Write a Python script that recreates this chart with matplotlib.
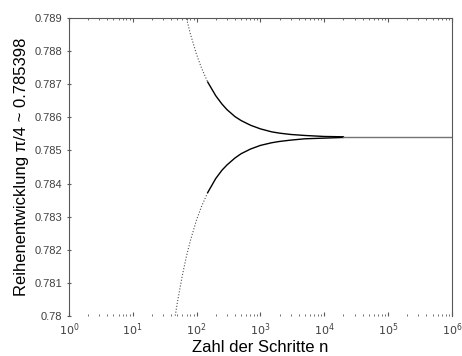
import numpy as np
import matplotlib.pyplot as plt
from matplotlib.ticker import FuncFormatter, LogLocator, NullFormatter

plt.rcParams['font.family'] = ['Liberation Sans', 'DejaVu Sans']

# Werte (Teilsummen der Reihe)
n_oben = [70, 80, 100, 120, 150, 200, 250, 300, 400, 500, 700, 1000, 1500, 2000,
          3000, 5000, 10000, 20000]
y_oben = [0.78897, 0.78852, 0.78790, 0.78748, 0.78706, 0.78665, 0.78640, 0.78623,
          0.78602, 0.78590, 0.78576, 0.78565, 0.78556, 0.78552, 0.78548, 0.78545,
          0.78542, 0.78541]
n_unten = [45, 50, 60, 70, 80, 100, 120, 150, 200, 250, 300, 400, 500, 700, 1000,
           1500, 2000, 3000, 5000, 10000, 20000]
y_unten = [0.77984, 0.78040, 0.78123, 0.78183, 0.78227, 0.78290, 0.78331, 0.78373,
           0.78415, 0.78440, 0.78456, 0.78477, 0.78490, 0.78504, 0.78515, 0.78523,
           0.78527, 0.78531, 0.78535, 0.78537, 0.78539]
n_rest = [20000, 1000000]
y_rest = [0.785398, 0.785398]
x_ticks = [1, 10, 100, 1000, 10000, 100000, 1000000]
x_labels = ["$10^{%d}$" % i for i in range(7)]

fig = plt.figure(figsize=(4.62, 3.56), dpi=100)
ax = fig.add_axes([0.149, 0.112, 0.829, 0.838])

n_oben = np.array(n_oben)
y_oben = np.array(y_oben)
n_unten = np.array(n_unten)
y_unten = np.array(y_unten)

# duenn besetzter Teil gepunktet, Rest durchgezogen
ax.plot(n_oben[n_oben <= 150], y_oben[n_oben <= 150], ":", color="0.3", lw=0.8)
ax.plot(n_oben[n_oben >= 150], y_oben[n_oben >= 150], "-", color="k", lw=1.0)
ax.plot(n_unten[n_unten <= 150], y_unten[n_unten <= 150], ":", color="0.3", lw=0.8)
ax.plot(n_unten[n_unten >= 150], y_unten[n_unten >= 150], "-", color="k", lw=1.0)
ax.plot(n_rest, y_rest, "-", color="0.45", lw=1.0)

ax.set_xscale("log")
ax.set_xlim(1, 1e6)
ax.set_ylim(0.78, 0.789)
ax.set_yticks(np.arange(0.780, 0.7895, 0.001))
ax.yaxis.set_major_formatter(FuncFormatter(lambda v, p: "%g" % round(v, 3)))
ax.set_xticks(x_ticks)
ax.set_xticklabels(x_labels)
ax.xaxis.set_minor_locator(LogLocator(base=10, subs=np.arange(2, 10), numticks=20))
ax.xaxis.set_minor_formatter(NullFormatter())

ax.tick_params(axis="x", which="both", direction="in", top=True, bottom=True,
               colors="0.35", labelsize=8, labelcolor="0.25")
ax.tick_params(axis="x", which="major", length=3)
ax.tick_params(axis="x", which="minor", length=1.5)
ax.tick_params(axis="y", direction="inout", length=3, colors="0.35",
               labelsize=8, labelcolor="0.25")

for s in ["left", "top", "right"]:
    ax.spines[s].set_color("0.35")
    ax.spines[s].set_linewidth(0.8)
ax.spines["bottom"].set_visible(False)

ax.set_xlabel("Zahl der Schritte n", fontsize=12, labelpad=2)
ax.set_ylabel("Reihenentwicklung \u03c0/4 ~ 0.785398", fontsize=12, labelpad=4)

fig.savefig("out.png", dpi=100)
